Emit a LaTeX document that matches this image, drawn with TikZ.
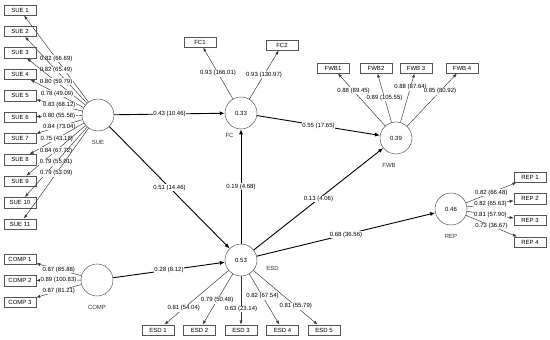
\documentclass[tikz,border=0pt]{standalone}
\usepackage{fontspec}
\setmainfont{Liberation Sans}
\usetikzlibrary{arrows.meta,positioning}
\definecolor{edge}{HTML}{333333}
\definecolor{frame}{HTML}{555555}
\newcommand{\tinyfont}{\fontsize{6}{7}\selectfont}
\tikzset{lv/.style={circle, draw=frame, line width=.5pt, minimum size=32pt, inner sep=0pt, font=\tinyfont}, ind/.style={draw=frame, line width=.5pt, minimum width=32pt, minimum height=10.5pt, inner sep=0pt, font=\tinyfont}, load/.style={-{Latex[length=4pt,width=3pt]}, line width=.45pt, color=edge}, path/.style={-{Latex[length=5pt,width=4pt]}, line width=.9pt}, coef/.style={fill=white, inner sep=.6pt, font=\tinyfont, text=black}, nm/.style={font=\tinyfont, inner sep=1pt, text=edge}}

\begin{document}
\begin{tikzpicture}[x=1pt,y=-1pt]
\useasboundingbox (0,0) rectangle (550,340);
% latent variables
\node[lv] (sue) at (98,115) {};
\node[lv] (fc) at (241,113) {0.33};
\node[lv] (fwb) at (396,138) {0.39};
\node[lv] (rep) at (451,209) {0.46};
\node[lv] (esd) at (241,260) {0.53};
\node[lv] (comp) at (97,280) {};
\node[nm, below=8pt of sue] (suename) {SUE};
\node[nm, below=8pt of fc.south west] (fcname) {FC};
\node[nm, below=8pt of fwb, xshift=-7pt] (fwbname) {FWB};
\node[nm, below=8pt of rep] (repname) {REP};
\node[nm, right=8pt of esd, yshift=-8pt] (esdname) {ESD};
\node[nm, below=8pt of comp] (compname) {COMP};
% indicators
\foreach \c [count=\i] in {{0.82 (66.69)},{0.82 (65.49)},{0.80 (59.79)},{0.78 (49.09)},{0.83 (68.12)},{0.80 (55.58)},{0.84 (73.04)},{0.75 (43.18)},{0.84 (67.72)},{0.79 (55.01)},{0.79 (53.09)}} {
  \node[ind] (sue\i) at (20,{10+21.4*(\i-1)}) {SUE \i};
  \draw[load] (sue) -- (sue\i) node[coef, midway] {\c};
}
\foreach \c [count=\i] in {{0.87 (85.88)},{0.89 (100.83)},{0.87 (81.21)}} {
  \node[ind] (comp\i) at (20,{259+21.5*(\i-1)}) {COMP \i};
  \draw[load] (comp) -- (comp\i) node[coef, midway] {\c};
}
\foreach \c [count=\i] in {{0.82 (66.48)},{0.82 (65.63)},{0.81 (57.90)},{0.73 (36.67)}} {
  \node[ind] (rep\i) at (530,{177+21.7*(\i-1)}) {REP \i};
  \draw[load] (rep) -- (rep\i) node[coef, midway] {\c};
}
\foreach \c/\p [count=\i] in {{0.81 (54.04)}/.7,{0.79 (50.48)}/.52,{0.63 (23.14)}/.68,{0.82 (67.54)}/.44,{0.81 (55.79)}/.66} {
  \node[ind] (esd\i) at ({158+41.5*(\i-1)},330) {ESD \i};
  \draw[load] (esd) -- (esd\i) node[coef, pos=\p] {\c};
}
\foreach \t/\x/\c/\p [count=\i] in {FWB1/333/{0.88 (89.45)}/.67,FWB2/376/{0.89 (105.55)}/.5,{FWB 3}/416/{0.88 (87.64)}/.72,{FWB 4}/462/{0.85 (80.92)}/.66} {
  \node[ind] (fwb\i) at (\x,68) {\t};
  \draw[load] (fwb) -- (fwb\i) node[coef, pos=\p] {\c};
}
\node[ind] (fc1) at (200,42) {FC1};
\node[ind] (fc2) at (282,45) {FC2};
\draw[load] (fc) -- (fc1) node[coef, midway] {0.93 (166.01)};
\draw[load] (fc) -- (fc2) node[coef, midway] {0.93 (130.97)};
% structural paths
\draw[path] (sue) -- (fc) node[coef, midway] {0.43 (10.46)};
\draw[path] (sue) -- (esd) node[coef, midway] {0.51 (14.46)};
\draw[path] (comp) -- (esd) node[coef, midway] {0.28 (8.12)};
\draw[path] (esd) -- (fc) node[coef, midway] {0.19 (4.68)};
\draw[path] (fc) -- (fwb) node[coef, midway] {0.55 (17.65)};
\draw[path] (esd) -- (fwb) node[coef, midway] {0.13 (4.06)};
\draw[path] (esd) -- (rep) node[coef, midway] {0.68 (36.56)};
\end{tikzpicture}
\end{document}
